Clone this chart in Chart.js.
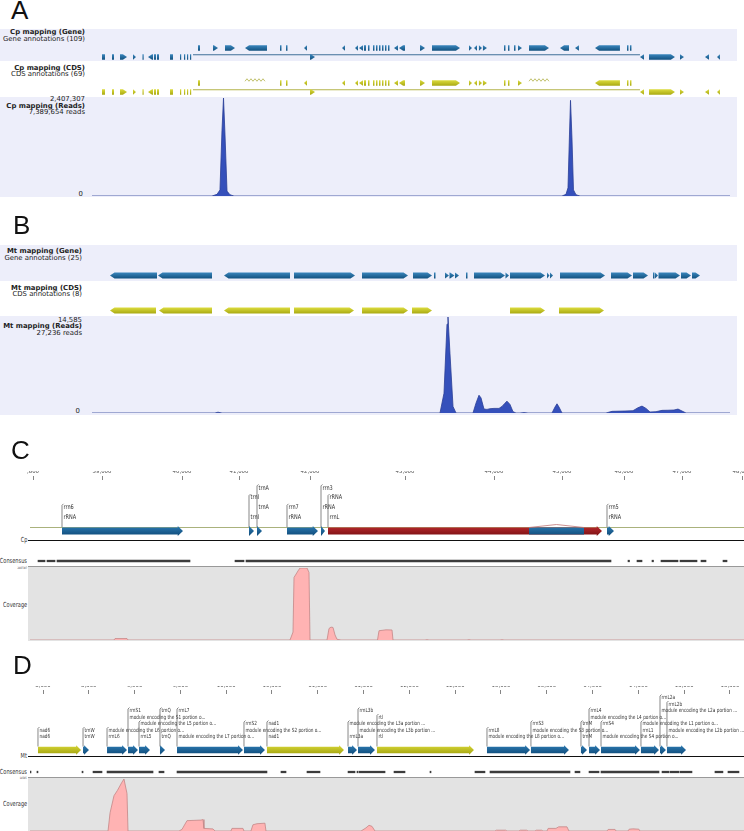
<!DOCTYPE html>
<html>
<head>
<meta charset="utf-8">
<script src="https://cdn.jsdelivr.net/npm/chart.js@4.4.1/dist/chart.umd.min.js"></script>
<style>
body { margin:0; width:744px; height:831px; overflow:hidden; position:relative; background:#fff; font-family:"DejaVu Sans", sans-serif; }
.letter { position:absolute; z-index:5; font-family:"Liberation Sans", Arial, sans-serif; font-size:26px; line-height:26px; color:#111; }
.band { position:absolute; left:0; width:737px; background:#edeefa; }
.tl { position:absolute; left:0; text-align:right; font-size:6.9px; line-height:7px; color:#222; white-space:nowrap; }
.nl { position:absolute; right:717px; text-align:right; font-family:"Liberation Sans Narrow","DejaVu Sans Condensed","Liberation Sans",sans-serif; font-size:7px; line-height:8px; color:#333; white-space:nowrap; transform:scaleX(0.8); transform-origin:right center; }
.rule { position:absolute; }
canvas { position:absolute; left:0; }
</style>
</head>
<body>

<!-- Panel A -->
<div class="letter" style="left:11px; top:-3px">A</div>
<div class="band" style="top:29px; height:32px"></div>
<div class="band" style="top:97px; height:100px"></div>
<div class="tl" style="width:85px; top:29.2px"><b>Cp mapping (Gene)</b></div>
<div class="tl" style="width:85px; top:35.8px">Gene annotations (109)</div>
<div class="tl" style="width:85px; top:64.8px"><b>Cp mapping (CDS)</b></div>
<div class="tl" style="width:85px; top:70.8px">CDS annotations (69)</div>
<div class="tl" style="width:85px; top:96px">2,407,307</div>
<div class="tl" style="width:85px; top:102.5px"><b>Cp mapping (Reads)</b></div>
<div class="tl" style="width:85px; top:109px">7,389,654 reads</div>
<div class="tl" style="width:83px; top:190.5px">0</div>
<canvas id="cp_gene" width="744" height="33" style="top:29px"></canvas>
<canvas id="cp_cds" width="744" height="35" style="top:62px"></canvas>
<canvas id="cp_reads" width="744" height="102" style="top:96px"></canvas>

<!-- Panel B -->
<div class="letter" style="left:13px; top:212px">B</div>
<div class="band" style="top:245px; height:36px"></div>
<div class="band" style="top:316px; height:99px"></div>
<div class="tl" style="width:82px; top:248.2px"><b>Mt mapping (Gene)</b></div>
<div class="tl" style="width:82px; top:254.8px">Gene annotations (25)</div>
<div class="tl" style="width:82px; top:284.8px"><b>Mt mapping (CDS)</b></div>
<div class="tl" style="width:82px; top:290.5px">CDS annotations (8)</div>
<div class="tl" style="width:82px; top:316.5px">14,585</div>
<div class="tl" style="width:82px; top:323.2px"><b>Mt mapping (Reads)</b></div>
<div class="tl" style="width:82px; top:329.8px">27,236 reads</div>
<div class="tl" style="width:80px; top:408.2px">0</div>
<canvas id="mt_gene" width="744" height="36" style="top:245px"></canvas>
<canvas id="mt_cds" width="744" height="35" style="top:281px"></canvas>
<canvas id="mt_reads" width="744" height="100" style="top:315px"></canvas>

<!-- Panel C -->
<div class="letter" style="left:11px; top:437px">C</div>
<div class="rule" style="left:30px; top:527px; width:714px; height:1px; background:#aab27c"></div>
<div class="rule" style="left:28px; top:539.5px; width:716px; height:1.5px; background:#111"></div>
<div class="rule" style="left:28px; top:566px; width:716px; height:74px; background:#e3e3e3; border-top:1px solid #999"></div>
<div class="nl" style="top:536px">Cp</div>
<div class="nl" style="top:557px">Consensus</div>
<div class="nl" style="top:566px; font-size:3px; line-height:4px">2407307</div>
<div class="nl" style="top:601px">Coverage</div>
<canvas id="c_ruler" width="760" height="18" style="top:471px"></canvas>
<canvas id="c_genes" width="760" height="58" style="top:482px"></canvas>
<canvas id="c_consensus" width="760" height="8" style="top:557px"></canvas>
<canvas id="c_coverage" width="760" height="73" style="top:567px"></canvas>

<!-- Panel D -->
<div class="letter" style="left:13px; top:652px">D</div>
<div class="rule" style="left:28px; top:755.5px; width:716px; height:1.5px; background:#111"></div>
<div class="rule" style="left:28px; top:777px; width:716px; height:54px; background:#e3e3e3; border-top:1px solid #999"></div>
<div class="nl" style="top:752px">Mt</div>
<div class="nl" style="top:768px">Consensus</div>
<div class="nl" style="top:776px; font-size:3px; line-height:4px">14585</div>
<div class="nl" style="top:800px">Coverage</div>
<canvas id="d_ruler" width="760" height="16" style="top:686px"></canvas>
<canvas id="d_genes" width="760" height="64" style="top:692px"></canvas>
<canvas id="d_consensus" width="760" height="8" style="top:768px"></canvas>
<canvas id="d_coverage" width="760" height="53" style="top:778px"></canvas>

<script>
/*----------------------------------------------------------------------------*/
/* Data                                                                       */
/*----------------------------------------------------------------------------*/
// features are [start, end, strand]; strand 1 / -1 arrows, 0 box,
// 'l' spanning line, 'z' zigzag, 'a' small arc

// A: Cp mapping, positions in bp
const cp_length = 150000;
const cp_gene_upper = [
    [24920,25390,0],[28450,29620,1],[31270,33620,1],[35970,41140,-1],
    [44200,44550,0],[45610,45960,0],[49840,50550,-1],[58780,59480,-1],
    [61830,62540,-1],[62770,63710,-1],[63950,64420,0],[64890,65240,0],
    [66060,66410,0],[66770,67120,0],[67470,67820,0],[68180,68530,0],
    [68880,69230,0],[69590,69940,0],[71000,71940,-1],[72180,73590,-1],
    [77110,78290,1],[79930,86520,1],[88630,89340,1],[89810,90510,-1],
    [90980,91690,1],[91920,92860,1],[96860,97210,0],[97800,98150,0],
    [99210,99570,0],[100150,101090,1],[102740,107450,1],[110030,112150,-1],
    [113550,114490,-1],[118260,124130,-1],[125780,126130,0],[126480,126830,0]
];
const cp_gene_lower = [
    [2350,3060,0],[4700,5170,0],[6580,8230,1],[9640,10340,1],[11870,12110,0],
    [13170,14340,-1],[14580,15050,0],[15280,15750,0],[18340,19040,0],
    [20690,20920,0],[21630,21860,0],[22330,22570,0],[23040,23270,0],
    [23750,128830,'l'],[51250,52430,1],[128830,129780,-1],[130950,137060,1],
    [138240,139180,1],[144110,145060,-1],[146940,147640,-1]
];
const cp_cds_upper = [
    [24920,25390,0],[35970,41140,'z'],[44200,44550,0],[45610,45960,0],
    [49840,50550,-1],[58780,59480,-1],[61830,62540,-1],[62770,63710,-1],
    [63950,64420,0],[64890,65240,0],[66060,66410,0],[66770,67120,0],
    [67470,67820,0],[68180,68530,0],[68880,69230,0],[69590,69940,0],
    [71000,71940,-1],[72180,73590,-1],[77110,78290,1],[79930,86520,1],
    [88630,89340,1],[89810,90510,-1],[90980,91690,1],[91920,92860,1],
    [96860,97210,0],[97800,98150,0],[100150,101090,1],[102740,107450,'z'],
    [118260,124130,-1],[125780,126130,0],[126480,126830,0]
];
const cp_cds_lower = [
    [2350,3060,0],[4700,5170,0],[6580,8230,1],[9640,10340,1],[11870,12110,0],
    [13170,14340,-1],[14580,15050,0],[15280,15750,0],[18340,19040,0],
    [20690,20920,0],[21630,21860,0],[22330,22570,0],[23040,23270,0],
    [23750,128830,'l'],[51250,52430,1],[128830,129780,-1],[130950,137060,1],
    [138240,139180,1],[144110,145060,-1],[146940,147640,-1]
];
const cp_read_max = 2407307;
const cp_read_pos = [0, 28210,29390,30090,30560,30920,31270,31740,32440,33380,
    110500,111440,111910,112260,112500,112850,113200,113790,114730, 150000];
const cp_read_depth = [0, 0,40000,150000,1600000,2407307,1500000,120000,30000,0,
    0,40000,200000,1500000,2350000,1400000,150000,30000,0, 0];

// B: Mt mapping, positions in bp
const mt_length = 42000;
const mt_gene = [
    [1185,4279,-1],[4345,7900,-1],[8690,13034,-1],[13298,17313,1],[17774,20802,1],
    [21131,22382,1],[22514,22613,0],[23238,23501,1],[23534,23864,1],[23896,24159,1],
    [24620,24719,0],[25147,27188,1],[27221,27452,1],[27517,29821,1],[29953,30117,1],
    [30150,30348,1],[30808,33772,1],[34166,35548,1],[35614,36601,1],[36931,37030,0],
    [37062,37260,1],[37293,38708,1],[38774,39432,1],[39498,40025,1]
];
const mt_cds = [
    [1185,4213,-1],[4411,7900,-1],[8690,13034,-1],[13298,17247,1],
    [17774,20802,1],[21066,22382,1],[27517,29821,1],[30743,33706,1]
];
const mt_read_max = 14585;
const mt_read_pos = [0, 8097,8295,8558,
    22909,23172,23370,23435,23567,23765,23962,
    25081,25279,25476,25608,25805,26003,26200,26464,26793,26990,27188,27319,27517,27714,27911,
    28175,28439,28702, 30282,30479,30611,30743,30940,
    33837,34232,35087,35614,35943,36207,36470,36733,37128,37523,37918,38313,38576,38840,39103,
    42000];
const mt_read_depth = [0, 0,120,0,
    0,3000,13500,14585,9000,1000,0,
    0,1500,2700,2300,600,550,650,700,700,1000,1500,1800,1300,200,0,
    0,60,0, 0,900,1400,900,0,
    0,250,300,350,800,1050,700,150,200,400,420,450,600,300,0,
    0];

// C: Cp alignment, positions in alignment columns (reference has gaps)
const c_length = 7140;
const c_tick_cols = [30, 720, 1520, 2090, 2800, 3750, 4640, 5320, 5940, 6520, 7120];
const c_tick_labels = [',800', '39,000', '40,000', '41,000', '42,000', '43,000',
    '44,000', '45,000', '46,000', '47,000', '48,000'];
const c_rrna = [[320,1530,1],[2190,2240,1],[2270,2320,1],[2570,2880,1],[2910,2950,1],[5770,5840,1]];
const c_rrnl = [[2980,5720,1]];
const c_rrnl_inner = [[4990,5540,0]];
const c_rrnl_arc = [[4990,5540,'a']];
const c_label_groups = [
    [320,  [['rrn6',1],['rRNA',0]]],
    [2190, [['trnI',2],['trnI',0]]],
    [2270, [['trnA',3],['trnA',1]]],
    [2570, [['rrn7',1],['rRNA',0]]],
    [2910, [['rrn3',3],['rRNA',1]]],
    [2980, [['rRNA',2],['rrnL',0]]],
    [5770, [['rrn5',1],['rRNA',0]]]
];
const c_consensus = [[80,150],[170,250],[270,1600],[2050,2140],[2160,5810],[5980,5995],
    [6070,6120],[6220,6235],[6310,6480],[6500,6670],[6710,6760],[6930,6970]];
const c_cov_max = 2407307;
const c_cov_pos = [0, 840,850,970,980,
    2600,2630,2640,2680,2700,2770,2790,2800,
    2970,2990,3010,3030,3050,3070,3110,
    3475,3490,3560,3620,3630,
    3950,3970,3990, 4370,4390,4410, 4700,4720,4740, 7140];
const c_cov_depth = [0, 0,48000,48000,0,
    0,265000,2090000,2310000,2407307,2407307,2260000,0,
    0,385000,430000,420000,170000,24000,0,
    0,310000,340000,335000,0,
    0,12000,0, 0,12000,0, 0,10000,0, 0];

// D: Mt alignment, positions in bp
const d_min = 7858;
const d_max = 15653;
const d_tick_vals = [8000,8500,9000,9500,10000,10500,11000,11500,12000,12500,
    13000,13500,14000,14500,15000,15500];
const d_blue = [
    [8437,8502,1],[8699,8917,1],[8928,9037,1],[9048,9168,1],[9277,9332,1],
    [9463,10183,1],[10194,10423,1],[11330,11428,1],[11439,11624,1],[12847,13317,1],
    [13327,13742,1],[13873,13939,1],[13961,14081,1],[14092,14517,1],[14528,14725,1],
    [14736,14801,1],[14812,15020,1]
];
const d_yellow = [[7945,8415,1],[10445,11286,1],[11646,12705,1]];
const d_label_groups = [
    [7945,  [['nad6',1],['nad6',0]]],
    [8437,  [['trnW',1],['trnW',0]]],
    [8699,  [['module encoding the L6 portion o...',1],['rrnL6',0]]],
    [8928,  [['rrnS1',4],['module encoding the S1 portion o...',3]]],
    [9048,  [['module encoding the L5 portion o...',2],['rrnL5',0]]],
    [9277,  [['trnQ',4],['trnQ',0]]],
    [9463,  [['rrnL7',4],['module encoding the L7 portion o...',0]]],
    [10194, [['rrnS2',2],['module encoding the S2 portion o...',1]]],
    [10445, [['nad1',2],['nad1',0]]],
    [11330, [['module encoding the L3a portion ...',2],['rrnL3a',0]]],
    [11439, [['rrnL3b',4],['module encoding the L3b portion ...',1]]],
    [11646, [['rtl',3],['rtl',0]]],
    [12847, [['rrnL8',1],['module encoding the L8 portion o...',0]]],
    [13327, [['rrnS3',2],['module encoding the S3 portion o...',1]]],
    [13873, [['trnM',2],['trnM',0]]],
    [13961, [['rrnL4',4],['module encoding the L4 portion o...',3]]],
    [14092, [['rrnS4',2],['module encoding the S4 portion o...',0]]],
    [14528, [['module encoding the L1 portion o...',2],['rrnL1',1]]],
    [14736, [['rrnL2a',6],['module encoding the L2a portion ...',4]]],
    [14812, [['rrnL2b',5],['module encoding the L2b portion ...',1]]]
];
const d_consensus = [[7858,7869],[7934,7945],[8426,8437],[8546,8644],[8699,9201],[9266,9321],
    [9463,10445],[10598,10653],[10882,11024],[11330,11406],[11428,11439],[11450,11734],
    [11832,11952],[12225,12236],[12716,12825],[12880,13753],[13808,13862],[13961,14070],
    [14092,14725],[14758,14834],[14845,14943],[14954,15085],[15336,15423],[15478,15598]];
const d_cov_max = 14585;
const d_cov_pos = [7858,
    8710,8732,8775,8813,8862,8884,8917,8928,
    9485,9517,9572,9725,9747,9757,9856,9878,
    10052,10063,10183,10194,
    10270,10292,10336,10423,10434,
    11472,11526,11559,11592,11624,
    12934,12950,13050,13065, 13196,13210,13280,13295, 13371,13385,13445,13458,
    13502,13515,13600,13630,13720,13742,
    14157,14170,14245,14256, 14386,14400,14440,14505,14517,
    15653];
const d_cov_depth = [0,
    0,5100,9900,11400,13700,14585,10500,0,
    0,440,2900,3060,3200,730,580,0,
    0,730,730,0,
    0,1750,2040,2190,0,
    0,875,1600,1300,0,
    0,220,220,0, 0,220,220,0, 0,220,220,0,
    0,730,730,1170,1170,0,
    0,440,440,0, 0,510,600,510,0,
    0];

/*----------------------------------------------------------------------------*/
/* Styles                                                                     */
/*----------------------------------------------------------------------------*/
const narrow_font = '"Liberation Sans Narrow", "DejaVu Sans Condensed", "Liberation Sans", sans-serif';
const gene_blue = { top: '#3a86bd', bottom: '#12517f', line: '#3f6f98' };
const cds_yellow = { top: '#dcdc3e', bottom: '#a9a912', line: '#b3b34a' };
const c_blue = { top: '#2c7ab2', bottom: '#0f4a78', line: '#c07575' };
const c_red = { top: '#bb2a2e', bottom: '#7a1012', line: '#c07575' };
const d_yel = { top: '#d6d636', bottom: '#a2a20e', line: '#999' };

/*----------------------------------------------------------------------------*/
/* Plugins                                                                    */
/*----------------------------------------------------------------------------*/
function draw_feature(ctx, x0, x1, cy, h, strand, col, head) {
    const top = cy - h / 2;
    const bot = cy + h / 2;
    ctx.save();
    if (strand === 'l') {
        ctx.strokeStyle = col.line;
        ctx.lineWidth = 1;
        ctx.beginPath();
        ctx.moveTo(x0, top + 0.5);
        ctx.lineTo(x1, top + 0.5);
        ctx.stroke();
    } else if (strand === 'z') {
        ctx.strokeStyle = col.line;
        ctx.lineWidth = 0.8;
        ctx.beginPath();
        let up = false;
        for (let x = x0; x <= x1; x += 2) {
            ctx.lineTo(x, up ? top - 1.5 : top + 1);
            up = !up;
        }
        ctx.stroke();
    } else if (strand === 'a') {
        ctx.strokeStyle = col.line;
        ctx.lineWidth = 0.8;
        ctx.beginPath();
        ctx.moveTo(x0, top);
        ctx.lineTo((x0 + x1) / 2, top - 3);
        ctx.lineTo(x1, top);
        ctx.stroke();
    } else {
        const grad = ctx.createLinearGradient(0, top - head, 0, bot + head);
        grad.addColorStop(0, col.top);
        grad.addColorStop(1, col.bottom);
        ctx.fillStyle = grad;
        const w = Math.max(x1 - x0, 1.2);
        const tip = Math.min(h * 0.75, w);
        ctx.beginPath();
        if (strand === 1) {
            ctx.moveTo(x0, top);
            ctx.lineTo(x0 + w - tip, top);
            ctx.lineTo(x0 + w - tip, top - head);
            ctx.lineTo(x0 + w, cy);
            ctx.lineTo(x0 + w - tip, bot + head);
            ctx.lineTo(x0 + w - tip, bot);
            ctx.lineTo(x0, bot);
        } else if (strand === -1) {
            ctx.moveTo(x0 + w, top);
            ctx.lineTo(x0 + tip, top);
            ctx.lineTo(x0 + tip, top - head);
            ctx.lineTo(x0, cy);
            ctx.lineTo(x0 + tip, bot + head);
            ctx.lineTo(x0 + tip, bot);
            ctx.lineTo(x0 + w, bot);
        } else {
            ctx.rect(x0, top, w, h);
        }
        ctx.closePath();
        ctx.fill();
    }
    ctx.restore();
}

const feature_shapes = {
    id: 'featureShapes',
    afterDatasetsDraw(chart) {
        const ctx = chart.ctx;
        chart.data.datasets.forEach(function (ds, di) {
            if (!ds.feature_colors) {
                return;
            }
            const meta = chart.getDatasetMeta(di);
            meta.data.forEach(function (el, i) {
                const p = el.getProps(['x', 'base', 'y', 'height'], true);
                draw_feature(ctx, Math.min(p.x, p.base), Math.max(p.x, p.base), p.y, p.height,
                    ds.data[i].strand, ds.feature_colors, ds.head_extra);
            });
        });
    }
};

// label stacks above the annotations, looked up by canvas id
const label_sets = {
    c_genes: { groups: c_label_groups, font: '6.5px ' + narrow_font, squeeze: 0.85, first_gap: 14, row_gap: 9.7, half: 4 },
    d_genes: { groups: d_label_groups, font: '5.6px ' + narrow_font, squeeze: 0.84, first_gap: 13, row_gap: 6.5, half: 3.5 }
};

const feature_labels = {
    id: 'featureLabels',
    afterDatasetsDraw(chart) {
        const set = label_sets[chart.canvas.id];
        if (!set) {
            return;
        }
        const ctx = chart.ctx;
        const lane_y = (chart.chartArea.top + chart.chartArea.bottom) / 2;
        ctx.save();
        ctx.font = set.font;
        ctx.textBaseline = 'middle';
        ctx.fillStyle = '#333';
        ctx.strokeStyle = '#555';
        ctx.lineWidth = 0.7;
        for (const [at, labels] of set.groups) {
            const px = chart.scales.x.getPixelForValue(at);
            let top_level = 0;
            for (const [text, level] of labels) {
                top_level = Math.max(top_level, level);
                ctx.save();
                ctx.translate(px + 1.5, lane_y - set.first_gap - level * set.row_gap);
                ctx.scale(set.squeeze, 1);
                ctx.fillText(text, 0, 0);
                ctx.restore();
            }
            const y_top = lane_y - set.first_gap - top_level * set.row_gap - 2.5;
            ctx.beginPath();
            ctx.moveTo(px + 1.5, y_top - 1);
            ctx.lineTo(px, y_top + 0.5);
            ctx.lineTo(px, lane_y - set.half);
            ctx.stroke();
        }
        ctx.restore();
    }
};

/*----------------------------------------------------------------------------*/
/* Chart builders                                                             */
/*----------------------------------------------------------------------------*/
function feature_dataset(features, lane, colors, thickness, head) {
    return {
        data: features.map(f => ({ x: [f[0], f[1]], y: lane, strand: f[2] })),
        backgroundColor: 'rgba(0,0,0,0)',
        borderWidth: 0,
        barThickness: thickness,
        grouped: false,
        feature_colors: colors,
        head_extra: head
    };
}

function base_options(x_min, x_max, padding) {
    return {
        responsive: false,
        animation: false,
        devicePixelRatio: 1,
        layout: { padding: padding },
        plugins: { legend: { display: false }, tooltip: { enabled: false } },
        scales: {
            x: { type: 'linear', min: x_min, max: x_max, display: false }
        }
    };
}

function make_feature_chart(id, lanes, datasets, x_min, x_max, padding) {
    const options = base_options(x_min, x_max, padding);
    options.indexAxis = 'y';
    options.scales.y = { type: 'category', labels: lanes, display: false };
    return new Chart(document.getElementById(id), {
        type: 'bar',
        data: { datasets: datasets },
        options: options,
        plugins: [feature_shapes, feature_labels]
    });
}

function make_segment_chart(id, segments, x_min, x_max, padding) {
    const options = base_options(x_min, x_max, padding);
    options.indexAxis = 'y';
    options.scales.y = { type: 'category', labels: ['cons'], display: false };
    return new Chart(document.getElementById(id), {
        type: 'bar',
        data: {
            datasets: [{
                data: segments.map(s => ({ x: [s[0], s[1]], y: 'cons' })),
                backgroundColor: '#3c3c3c',
                borderWidth: 0,
                barThickness: 1.6
            }]
        },
        options: options
    });
}

function make_depth_chart(id, pos, depth, x_min, x_max, y_max, padding, fill, border) {
    const options = base_options(x_min, x_max, padding);
    options.scales.y = { type: 'linear', min: 0, max: y_max, display: false };
    return new Chart(document.getElementById(id), {
        type: 'line',
        data: {
            datasets: [{
                data: pos.map((p, i) => ({ x: p, y: depth[i] })),
                fill: 'origin',
                backgroundColor: fill,
                borderColor: border,
                borderWidth: 0.8,
                pointRadius: 0,
                tension: 0
            }]
        },
        options: options
    });
}

function make_ruler(id, tick_vals, tick_labels, x_min, x_max, padding) {
    const options = base_options(x_min, x_max, padding);
    options.scales.x = {
        type: 'linear', min: x_min, max: x_max, position: 'top',
        afterBuildTicks: function (scale) {
            scale.ticks = tick_vals.map(v => ({ value: v }));
        },
        ticks: {
            autoSkip: false, maxRotation: 0, padding: 1, color: '#555',
            font: { family: narrow_font, size: 6 },
            callback: function (value) {
                return tick_labels[tick_vals.indexOf(value)];
            }
        },
        grid: { drawOnChartArea: false, tickLength: 4, color: '#666', lineWidth: 0.8 },
        border: { display: false }
    };
    options.scales.y = { type: 'linear', display: false };
    return new Chart(document.getElementById(id), {
        type: 'line',
        data: { datasets: [] },
        options: options
    });
}

/*----------------------------------------------------------------------------*/
/* Panel A                                                                    */
/*----------------------------------------------------------------------------*/
make_feature_chart('cp_gene', ['upper', 'lower'], [
    feature_dataset(cp_gene_upper, 'upper', gene_blue, 5.5, 0),
    feature_dataset(cp_gene_lower, 'lower', gene_blue, 5.5, 0)
], 0, cp_length, { left: 92, right: 14, top: 14.5, bottom: 0.5 });

make_feature_chart('cp_cds', ['upper', 'lower'], [
    feature_dataset(cp_cds_upper, 'upper', cds_yellow, 5.5, 0),
    feature_dataset(cp_cds_lower, 'lower', cds_yellow, 5.5, 0)
], 0, cp_length, { left: 92, right: 14, top: 16.5, bottom: 0.5 });

make_depth_chart('cp_reads', cp_read_pos, cp_read_depth, 0, cp_length, cp_read_max,
    { left: 92, right: 14, top: 2, bottom: 2 }, '#3550bb', '#2a3d95');

/*----------------------------------------------------------------------------*/
/* Panel B                                                                    */
/*----------------------------------------------------------------------------*/
make_feature_chart('mt_gene', ['lane'], [
    feature_dataset(mt_gene, 'lane', gene_blue, 6, 0)
], 0, mt_length, { left: 92, right: 14, top: 25, bottom: 0 });

make_feature_chart('mt_cds', ['lane'], [
    feature_dataset(mt_cds, 'lane', cds_yellow, 6, 0)
], 0, mt_length, { left: 92, right: 14, top: 24, bottom: 0 });

make_depth_chart('mt_reads', mt_read_pos, mt_read_depth, 0, mt_length, mt_read_max,
    { left: 92, right: 14, top: 2, bottom: 2 }, '#3550bb', '#2a3d95');

/*----------------------------------------------------------------------------*/
/* Panel C                                                                    */
/*----------------------------------------------------------------------------*/
make_ruler('c_ruler', c_tick_cols, c_tick_labels, 0, c_length, { left: 30, right: 16 });

make_feature_chart('c_genes', ['lane'], [
    feature_dataset(c_rrna, 'lane', c_blue, 7, 1.5),
    feature_dataset(c_rrnl, 'lane', c_red, 7, 1.5),
    feature_dataset(c_rrnl_inner, 'lane', c_blue, 7, 1.5),
    feature_dataset(c_rrnl_arc, 'lane', c_red, 7, 1.5)
], 0, c_length, { left: 30, right: 16, top: 40, bottom: 0 });

make_segment_chart('c_consensus', c_consensus, 0, c_length, { left: 30, right: 16 });

make_depth_chart('c_coverage', c_cov_pos, c_cov_depth, 0, c_length, c_cov_max,
    { left: 30, right: 16, top: 1, bottom: 0 }, '#ffb3b3', '#c48686');

/*----------------------------------------------------------------------------*/
/* Panel D                                                                    */
/*----------------------------------------------------------------------------*/
make_ruler('d_ruler', d_tick_vals, d_tick_vals.map(v => v.toLocaleString('en-US')),
    d_min, d_max, { left: 30, right: 16 });

make_feature_chart('d_genes', ['lane'], [
    feature_dataset(d_yellow, 'lane', d_yel, 6.5, 1.5),
    feature_dataset(d_blue, 'lane', c_blue, 6.5, 1.5)
], d_min, d_max, { left: 30, right: 16, top: 52, bottom: 0 });

make_segment_chart('d_consensus', d_consensus, d_min, d_max, { left: 30, right: 16 });

make_depth_chart('d_coverage', d_cov_pos, d_cov_depth, d_min, d_max, d_cov_max,
    { left: 30, right: 16, top: 1, bottom: 0 }, '#ffb3b3', '#c48686');
</script>
</body>
</html>
